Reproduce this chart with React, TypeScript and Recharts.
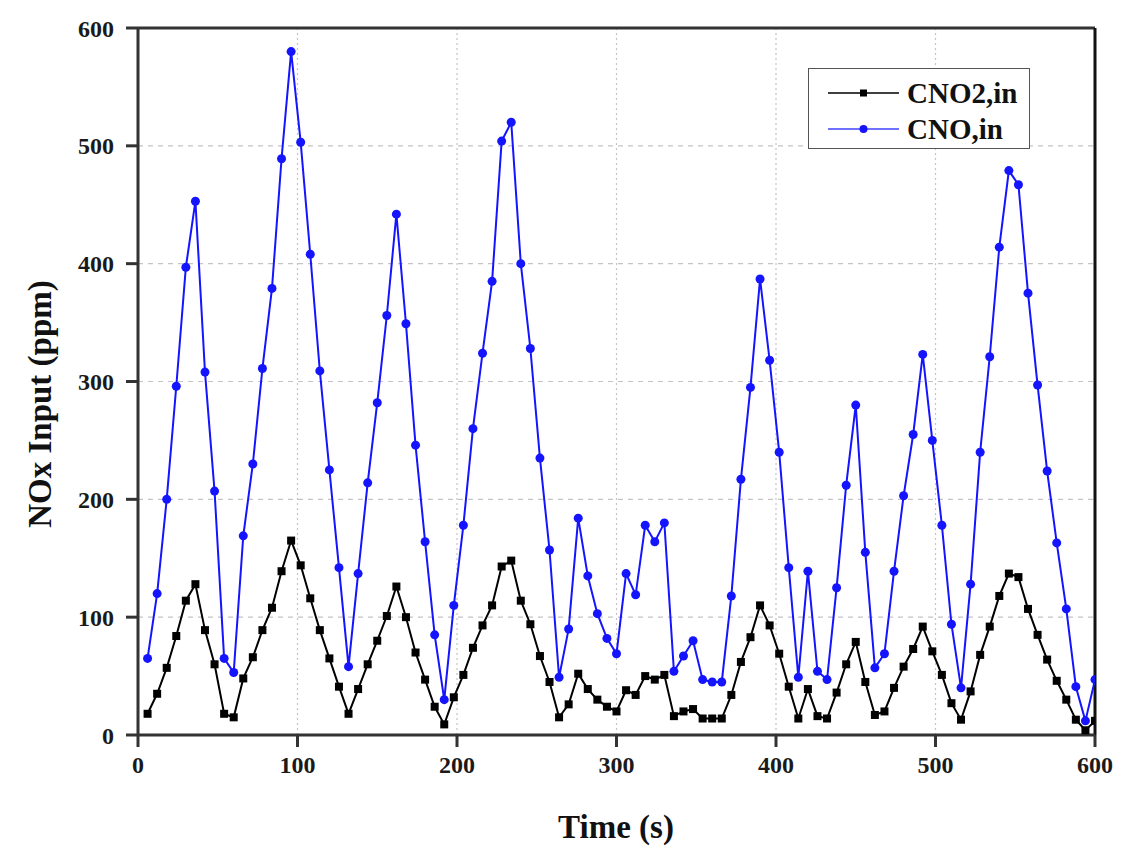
import {
  CartesianGrid,
  Line,
  LineChart,
  ReferenceLine,
  XAxis,
  YAxis,
} from 'recharts';

const times = [
  6, 12, 18, 24, 30, 36, 42, 48, 54, 60, 66, 72, 78, 84, 90, 96, 102, 108, 114, 120,
  126, 132, 138, 144, 150, 156, 162, 168, 174, 180, 186, 192, 198, 204, 210, 216, 222, 228, 234, 240,
  246, 252, 258, 264, 270, 276, 282, 288, 294, 300, 306, 312, 318, 324, 330, 336, 342, 348, 354, 360,
  366, 372, 378, 384, 390, 396, 402, 408, 414, 420, 426, 432, 438, 444, 450, 456, 462, 468, 474, 480,
  486, 492, 498, 504, 510, 516, 522, 528, 534, 540, 546, 552, 558, 564, 570, 576, 582, 588, 594, 600,
];

const cno2In = [
  18, 35, 57, 84, 114, 128, 89, 60, 18, 15, 48, 66, 89, 108, 139, 165, 144, 116, 89, 65,
  41, 18, 39, 60, 80, 101, 126, 100, 70, 47, 24, 9, 32, 51, 74, 93, 110, 143, 148, 114,
  94, 67, 45, 15, 26, 52, 39, 30, 24, 20, 38, 34, 50, 47, 51, 16, 20, 22, 14, 14,
  14, 34, 62, 83, 110, 93, 69, 41, 14, 39, 16, 14, 36, 60, 79, 45, 17, 20, 40, 58,
  73, 92, 71, 51, 27, 13, 37, 68, 92, 118, 137, 134, 107, 85, 64, 46, 30, 13, 4, 12,
];

const cnoIn = [
  65, 120, 200, 296, 397, 453, 308, 207, 65, 53, 169, 230, 311, 379, 489, 580, 503, 408, 309, 225,
  142, 58, 137, 214, 282, 356, 442, 349, 246, 164, 85, 30, 110, 178, 260, 324, 385, 504, 520, 400,
  328, 235, 157, 49, 90, 184, 135, 103, 82, 69, 137, 119, 178, 164, 180, 54, 67, 80, 47, 45,
  45, 118, 217, 295, 387, 318, 240, 142, 49, 139, 54, 47, 125, 212, 280, 155, 57, 69, 139, 203,
  255, 323, 250, 178, 94, 40, 128, 240, 321, 414, 479, 467, 375, 297, 224, 163, 107, 41, 12, 47,
];

const xTicks = [0, 100, 200, 300, 400, 500, 600];
const yTicks = [0, 100, 200, 300, 400, 500, 600];

const data = times.map((t, i) => ({ time: t, cno2: cno2In[i], cno: cnoIn[i] }));

const FONT = '"Liberation Serif", "Times New Roman", serif';
const AXIS = '#333';
const BLUE = '#1414ff';

const tickStyle = { fontSize: 24, fontWeight: 700, fill: '#1a1a1a', fontFamily: FONT };

function SquareDot(props: any) {
  const { cx, cy, index } = props;
  if (cx == null || cy == null) return null;
  return <rect key={`sq-${index}`} x={cx - 4} y={cy - 4} width={8} height={8} fill="#000" />;
}

// legend drawn as an overlay so it takes no room from the plot
function LegendBox() {
  const rows = [
    { name: 'CNO2,in', color: '#000', marker: 'square' },
    { name: 'CNO,in', color: BLUE, marker: 'circle' },
  ];
  return (
    <div
      style={{
        position: 'absolute',
        left: 808,
        top: 68,
        width: 222,
        height: 81,
        border: '1.5px solid #555',
        background: '#fff',
        boxSizing: 'border-box',
        padding: '6px 0 0 19px',
        fontFamily: FONT,
      }}
    >
      {rows.map((r) => (
        <div key={r.name} style={{ display: 'flex', alignItems: 'center', height: 36 }}>
          <svg width={72} height={14} style={{ flex: 'none' }}>
            <line x1={0} y1={7} x2={71} y2={7} stroke={r.color} strokeWidth={2} opacity={r.marker === 'circle' ? 0.6 : 0.75} />
            {r.marker === 'square' ? (
              <rect x={32} y={3.5} width={7} height={7} fill="#000" />
            ) : (
              <circle cx={35.5} cy={7} r={4} fill={BLUE} />
            )}
          </svg>
          <span style={{ fontSize: 29, fontWeight: 700, color: '#111', marginLeft: 7, lineHeight: 1 }}>
            {r.name}
          </span>
        </div>
      ))}
    </div>
  );
}

export default function App() {
  return (
    <div style={{ position: 'absolute', left: 0, top: 0, width: 1145, height: 858, background: '#fff' }}>
      <LineChart
        width={1145}
        height={858}
        data={data}
        margin={{ top: 28, right: 50, bottom: 0, left: 58 }}
      >
        <CartesianGrid horizontal vertical={false} stroke="#c4c4c4" strokeDasharray="5 5" strokeWidth={1.2} />
        <CartesianGrid horizontal={false} vertical stroke="#c4c4c4" strokeDasharray="2 3" strokeWidth={1.2} />
        <XAxis
          dataKey="time"
          type="number"
          domain={[0, 600]}
          ticks={xTicks}
          allowDataOverflow
          height={123}
          tickSize={12}
          tickMargin={9}
          tick={tickStyle}
          tickLine={{ stroke: AXIS, strokeWidth: 3 }}
          axisLine={{ stroke: AXIS, strokeWidth: 3 }}
        />
        <YAxis
          type="number"
          domain={[0, 600]}
          ticks={yTicks}
          width={80}
          tickSize={12}
          tickMargin={12}
          tick={tickStyle}
          tickLine={{ stroke: AXIS, strokeWidth: 3 }}
          axisLine={{ stroke: AXIS, strokeWidth: 3 }}
        />
        <ReferenceLine y={600} stroke={AXIS} strokeWidth={3} ifOverflow="visible" />
        <ReferenceLine x={600} stroke="#111" strokeWidth={3} ifOverflow="visible" />
        <Line
          name="CNO2,in"
          dataKey="cno2"
          stroke="#000"
          strokeWidth={2}
          dot={<SquareDot />}
          activeDot={false}
          isAnimationActive={false}
        />
        <Line
          name="CNO,in"
          dataKey="cno"
          stroke={BLUE}
          strokeWidth={2}
          dot={{ r: 4.5, fill: BLUE, stroke: BLUE, strokeWidth: 0 }}
          activeDot={false}
          isAnimationActive={false}
        />
      </LineChart>
      <LegendBox />
      <div
        style={{
          position: 'absolute',
          left: 616,
          top: 827,
          transform: 'translate(-50%, -50%)',
          whiteSpace: 'nowrap',
          fontFamily: FONT,
          fontWeight: 700,
          fontSize: 33,
          color: '#111',
        }}
      >
        Time (s)
      </div>
      <div
        style={{
          position: 'absolute',
          left: 40,
          top: 404,
          transform: 'translate(-50%, -50%) rotate(-90deg)',
          whiteSpace: 'nowrap',
          fontFamily: FONT,
          fontWeight: 700,
          fontSize: 33,
          color: '#111',
        }}
      >
        NOx Input (ppm)
      </div>
    </div>
  );
}
